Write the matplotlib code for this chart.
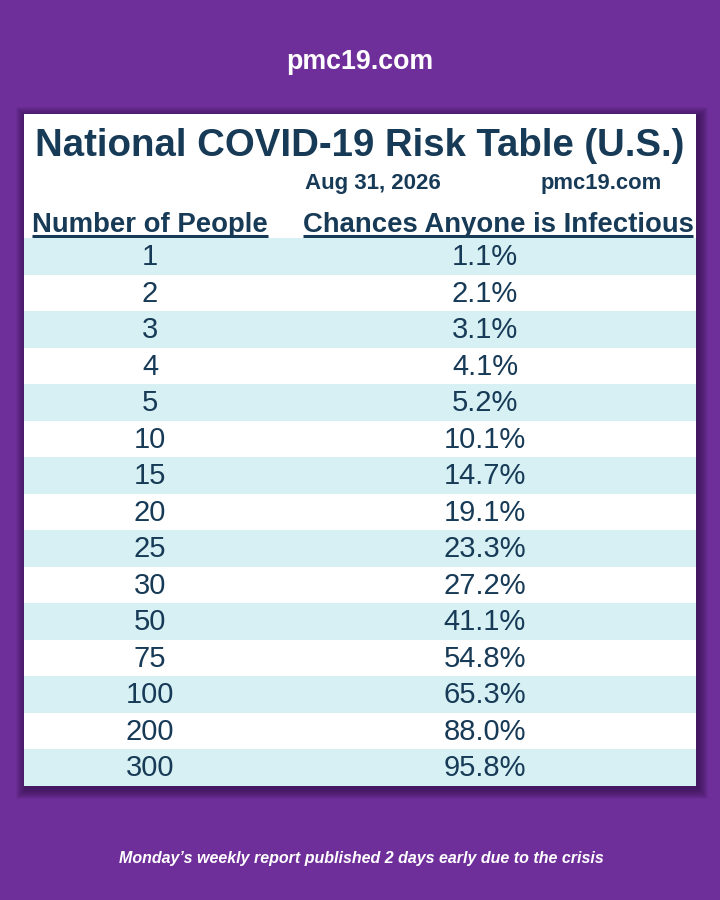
import matplotlib
matplotlib.use('Agg')
import matplotlib.pyplot as plt
from matplotlib.patches import Rectangle

# === Colors ===
PURPLE = '#6f2f9b'
SHADOW = '#2e0f45'
NAVY = '#173a57'
STRIPE = '#d7f0f3'
WHITE = '#ffffff'

plt.rcParams['font.family'] = ['Liberation Sans', 'DejaVu Sans']

# === Table data ===
people = ['1', '2', '3', '4', '5', '10', '15', '20', '25', '30', '50', '75', '100', '200', '300']
chances = ['1.1%', '2.1%', '3.1%', '4.1%', '5.2%', '10.1%', '14.7%', '19.1%', '23.3%',
           '27.2%', '41.1%', '54.8%', '65.3%', '88.0%', '95.8%']
col_headers = ['Number of People', 'Chances Anyone is Infectious']
title = 'National COVID-19 Risk Table (U.S.)'
date_label = 'Aug 31, 2026'
site = 'pmc19.com'
footer = 'Monday\u2019s weekly report published 2 days early due to the crisis'

W, H = 720, 900
fig = plt.figure(figsize=(W / 100, H / 100), dpi=100, facecolor=PURPLE)

# background axes in pixel coords
ax = fig.add_axes([0, 0, 1, 1])
ax.set_xlim(0, W)
ax.set_ylim(H, 0)
ax.axis('off')
ax.set_facecolor(PURPLE)

# panel geometry
px0, px1, py0, py1 = 24, 696, 114, 786

# soft shadow
for k in range(10, 0, -1):
    ax.add_patch(Rectangle((px0 - k + 2, py0 - k + 3), (px1 - px0) + 2 * k, (py1 - py0) + 2 * k,
                           facecolor=SHADOW, edgecolor='none', alpha=0.09, zorder=1))
ax.add_patch(Rectangle((px0, py0), px1 - px0, py1 - py0, facecolor=WHITE,
                       edgecolor='none', zorder=2))

# top site label and footer
ax.text(360, 62, site, ha='center', va='center', color=WHITE, fontsize=19.3,
        fontweight='bold', zorder=5)
ax.text(361, 858, footer, ha='center', va='center', color=WHITE, fontsize=11.5,
        fontweight='bold', fontstyle='italic',
        family=['Liberation Sans Narrow', 'Liberation Sans', 'DejaVu Sans'], zorder=5)

# title block
ax.text(360, 146, title, ha='center', va='center', color=NAVY, fontsize=27.6,
        fontweight='bold', zorder=5)
ax.text(373, 183, date_label, ha='center', va='center', color=NAVY, fontsize=16,
        fontweight='bold', zorder=5)
ax.text(601, 183, site, ha='center', va='center', color=NAVY, fontsize=15.8,
        fontweight='bold', zorder=5)

# column headers with underline
header_x = [150, 498]
header_texts = []
for hx, label in zip(header_x, col_headers):
    t = ax.text(hx, 232, label, ha='center', va='baseline', color=NAVY, fontsize=19.8,
                fontweight='bold', zorder=5)
    header_texts.append(t)

fig.canvas.draw()
renderer = fig.canvas.get_renderer()
inv = ax.transData.inverted()
for t in header_texts:
    bb = t.get_window_extent(renderer)
    (x0, _), (x1, _) = inv.transform([(bb.x0, bb.y0), (bb.x1, bb.y1)])
    ax.plot([x0, x1], [236, 236], color=NAVY, lw=2.2, solid_capstyle='butt', zorder=5)

# table axes (row units)
ty0, ty1 = 238, py1
tab = fig.add_axes([px0 / W, (H - ty1) / H, (px1 - px0) / W, (ty1 - ty0) / H])
tab.set_xlim(0, px1 - px0)
tab.set_ylim(len(people), 0)
tab.axis('off')
tab.patch.set_alpha(0)

rows = range(len(people))
stripe_colors = [STRIPE if i % 2 == 0 else WHITE for i in rows]
tab.barh([i + 0.5 for i in rows], [px1 - px0] * len(people), height=1.0, left=0,
         color=stripe_colors, edgecolor='none', zorder=1)

col_x = [150 - px0, 485 - px0]
for i, (p, c) in enumerate(zip(people, chances)):
    tab.text(col_x[0], i + 0.52, p, ha='center', va='center', color=NAVY, fontsize=21, zorder=3)
    tab.text(col_x[1], i + 0.52, c, ha='center', va='center', color=NAVY, fontsize=21, zorder=3)

plt.savefig('out.png', dpi=100, facecolor=PURPLE)
plt.close()
